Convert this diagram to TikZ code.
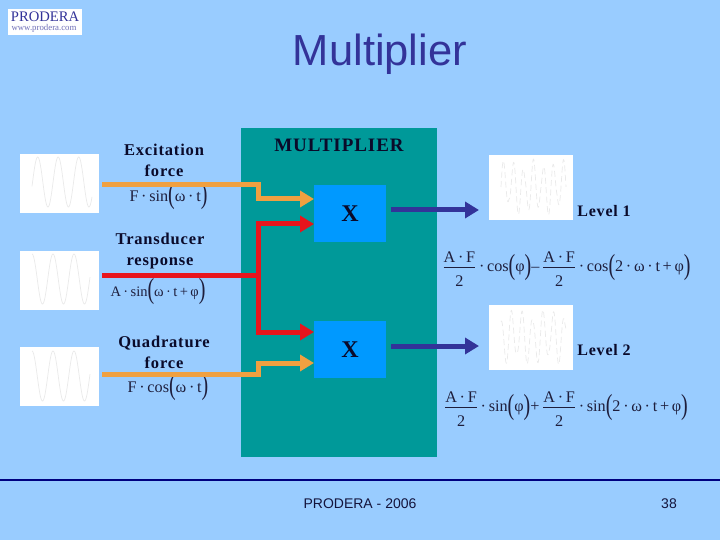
\documentclass[tikz,border=0pt]{standalone}
\usepackage{fontspec}
\usepackage{amsmath}
\usepackage{graphicx}
\setmainfont{Liberation Serif}
\newfontfamily\arialf{Liberation Sans}
\newfontfamily\spacedf[LetterSpace=5]{Liberation Serif}
\usetikzlibrary{arrows.meta}
\definecolor{bgblue}{HTML}{99CCFF}
\definecolor{tealb}{HTML}{009999}
\definecolor{boxb}{HTML}{0099FF}
\definecolor{navyt}{HTML}{333399}
\definecolor{footl}{HTML}{000080}
\definecolor{footc}{HTML}{14143C}
\definecolor{orangel}{HTML}{F0A040}
\definecolor{redl}{HTML}{E8141C}
\definecolor{wavec}{HTML}{EAEAEA}
\definecolor{inkc}{HTML}{0A0A2A}
\definecolor{mathc}{HTML}{1E1E3C}
\newcommand\bigp[1]{\raisebox{-0.16em}{\scalebox{1}[1.45]{\fontsize{20}{20}\selectfont #1}}}
\newcommand\frAF{$\displaystyle\frac{\raisebox{-3pt}[\height][0pt]{A\,·\,F}}{\hbox{\rule{0pt}{1.05em}2}}$}
\tikzset{
  wbox/.style={fill=white,inner sep=0pt,outer sep=0pt},
  hbox/.style={fill=boxb,inner sep=0pt,outer sep=0pt,minimum width=72pt,minimum height=57pt},
  lab/.style={font=\spacedf\fontsize{16.5}{20}\selectfont\bfseries,text=inkc,align=center,inner sep=0pt},
  mth/.style={font=\fontsize{16.2}{18}\selectfont,text=mathc,inner sep=0pt},
  feed/.style={line width=5pt,line join=miter,-{Triangle[length=14pt,width=16pt]}},
  feedplain/.style={line width=5pt,line join=miter},
  wave/.style={wavec,line width=0.7pt,smooth},
  wavey/.style={wavec,line width=0.7pt,dash pattern=on 6pt off 3.5pt}
}
\begin{document}
\begin{tikzpicture}[x=1pt,y=-1pt]
\useasboundingbox (0,0) rectangle (720,540);
\fill[bgblue] (0,0) rectangle (720,540);
% logo
\node[wbox,minimum width=74pt,minimum height=26pt] (logo) at (45,22) {};
\node[font=\fontsize{14.6}{15}\selectfont,text=navyt,inner sep=0pt] (logot) at (45,17) {PRODERA};
\node[font=\fontsize{8.8}{9}\selectfont,text=navyt!70,inner sep=0pt] (logou) at (44,28.5) {www.prodera.com};
% title
\node[font=\arialf\fontsize{43.5}{46}\selectfont,text=navyt,inner sep=0pt] (title) at (380,54) {Multiplier};
% multiplier block
\node[fill=tealb,inner sep=0pt,outer sep=0pt,minimum width=196pt,minimum height=329pt] (block) at (339,292.5) {};
\node[lab,font=\spacedf\fontsize{19}{22}\selectfont\bfseries] (mtitle) at (339,145) {MULTIPLIER};
\node[hbox] (m1) at (350,213.5) {};
\node[hbox] (m2) at (350,349.5) {};
\node[font=\fontsize{24}{26}\selectfont\bfseries,text=inkc,inner sep=0pt] (x1) at (350,214) {X};
\node[font=\fontsize{24}{26}\selectfont\bfseries,text=inkc,inner sep=0pt] (x2) at (350,350) {X};
% white boxes
\node[wbox,minimum width=79pt,minimum height=59pt] (w1) at (59.5,183.5) {};
\node[wbox,minimum width=79pt,minimum height=59pt] (w2) at (59.5,280.5) {};
\node[wbox,minimum width=79pt,minimum height=59pt] (w3) at (59.5,376.5) {};
\node[wbox,minimum width=84pt,minimum height=65pt] (o1) at (531,187.5) {};
\node[wbox,minimum width=84pt,minimum height=65pt] (o2) at (531,337.5) {};
% waves
\draw[wave] plot[domain=0:60,samples=120] ({32+\x},{182-25*sin(\x*17.56-10)});
\draw[wave] plot[domain=0:58,samples=120] ({32+\x},{279-25*cos(\x*17.14)});
\draw[wave] plot[domain=0:58,samples=120] ({32+\x},{376-25*cos(\x*17.14)});
\draw[wavey] plot[domain=0:65,samples=300] ({501+\x},{187-28*(0.45+0.55*abs(cos(\x*11.25)))*sin(\x*36)});
\draw[wavey] plot[domain=0:65,samples=300] ({501+\x},{337-28*(0.55+0.45*abs(sin(\x*11.25)))*cos(\x*34.3)});
% labels
\node[lab] (l1) at (164,160) {Excitation\\[1pt]force};
\node[lab] (l2) at (160,251) {Transducer\\[1pt]response};
\node[lab] (l3) at (164,352.5) {Quadrature\\[1pt]force};
\node[lab,font=\spacedf\fontsize{16}{18}\selectfont\bfseries] (lv1) at (604,211) {Level 1};
\node[lab,font=\spacedf\fontsize{16}{18}\selectfont\bfseries] (lv2) at (604,350) {Level 2};
% formulas
\node[mth] (f1) at (168.5,197) {F\,·\,sin\bigp{(}ω\,·\,t\bigp{)}};
\node[mth,font=\fontsize{14.5}{17}\selectfont] (f2) at (158,292) {A\,·\,sin\bigp{(}ω\,·\,t\,+\,φ\bigp{)}};
\node[mth] (f3) at (168,388) {F\,·\,cos\bigp{(}ω\,·\,t\bigp{)}};
\node[mth] (f4) at (566.5,268) {\frAF\,·\,cos\bigp{(}φ\bigp{)}--\,\frAF\,·\,cos\bigp{(}2\,·\,ω\,·\,t\,+\,φ\bigp{)}};
\node[mth] (f5) at (566,408) {\frAF\,·\,sin\bigp{(}φ\bigp{)}+\,\frAF\,·\,sin\bigp{(}2\,·\,ω\,·\,t\,+\,φ\bigp{)}};
% connector anchors
\coordinate (a1) at (102,185);
\coordinate (a1b) at (258,185);
\coordinate (a1c) at (258,199);
\coordinate (m1a) at (314,199);
\coordinate (a2) at (102,275);
\coordinate (bus) at (258,275);
\coordinate (bust) at (258,224);
\coordinate (busb) at (258,332);
\coordinate (m1r) at (314,224);
\coordinate (m2r) at (314,332);
\coordinate (a3) at (102,374);
\coordinate (a3b) at (258,374);
\coordinate (a3c) at (258,363);
\coordinate (m2a) at (314,363);
\coordinate (b1) at (391,210);
\coordinate (b1e) at (479,210);
\coordinate (b2) at (391,346);
\coordinate (b2e) at (479,346);
% connectors
\draw[feed,orangel] (a1) -- (a1b) -- (a1c) -- (m1a);
\draw[feed,orangel] (a3) -- (a3b) -- (a3c) -- (m2a);
\draw[feedplain,redl] (a2) -- (bus);
\draw[feed,redl] (bus) -- (bust) -- (m1r);
\draw[feed,redl] (bus) -- (busb) -- (m2r);
\draw[feed,navyt] (b1) -- (b1e);
\draw[feed,navyt] (b2) -- (b2e);
% footer
\coordinate (fl) at (0,480);
\coordinate (fr) at (720,480);
\draw[line width=2pt,color=footl] (fl) -- (fr);
\node[font=\arialf\fontsize{14}{16}\selectfont,text=footc,inner sep=0pt] (foot) at (360,504) {PRODERA - 2006};
\node[font=\arialf\fontsize{14}{16}\selectfont,text=footc,inner sep=0pt] (page) at (669,504) {38};
\end{tikzpicture}
\end{document}
